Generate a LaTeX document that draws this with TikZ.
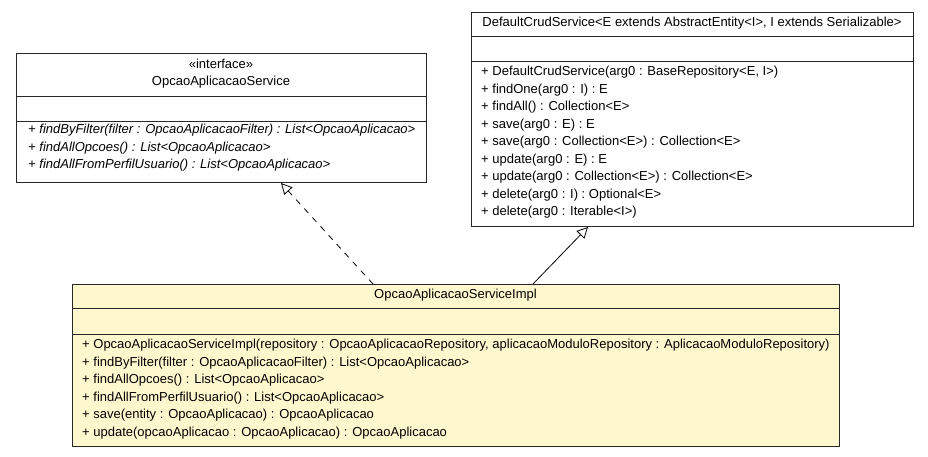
\documentclass[tikz,border=0pt]{standalone}
\usepackage{fontspec}
\setmainfont{Liberation Sans}
\usetikzlibrary{arrows.meta,calc}
\definecolor{implfill}{RGB}{255,248,206}
\definecolor{boxline}{RGB}{40,40,40}
\tikzset{
  umlbox/.style={draw=boxline, line width=1pt, rectangle, inner sep=0pt, anchor=north west},
  txt/.style={inner sep=0pt, anchor=mid west, font=\fontsize{13}{15}\selectfont},
  ttl/.style={inner sep=0pt, anchor=mid, font=\fontsize{13}{15}\selectfont},
  divider/.style={draw=boxline, line width=1pt},
  realize/.style={draw=black, line width=0.8pt, dash pattern=on 6pt off 6pt, -{Triangle[open, length=11pt, width=11pt, fill=white]}},
  generalize/.style={draw=black, line width=0.8pt, -{Triangle[open, length=11pt, width=11pt, fill=white]}}
}
\begin{document}
\begin{tikzpicture}[x=1pt,y=-1pt]
\useasboundingbox (0,0) rectangle (928,457);
% interface box
\node[umlbox, fill=white, minimum width=410pt, minimum height=128.5pt] (iface) at (16,53.5) {};
\draw[divider] (16,97) -- (426,97);
\draw[divider] (16,122) -- (426,122);
\node[ttl] (ifst) at (221,66) {«interface»};
\node[ttl] (ifname) at (221,82.5) {OpcaoAplicacaoService};
\node[txt] (if1) at (28,131) {\itshape + findByFilter(filter : OpcaoAplicacaoFilter) : List<OpcaoAplicacao>};
\node[txt] (if2) at (28,148.5) {\itshape + findAllOpcoes() : List<OpcaoAplicacao>};
\node[txt] (if3) at (28,166) {\itshape + findAllFromPerfilUsuario() : List<OpcaoAplicacao>};
% default crud service
\node[umlbox, fill=white, minimum width=442pt, minimum height=214pt] (crud) at (471,12) {};
\draw[divider] (471,37) -- (913,37);
\draw[divider] (471,62) -- (913,62);
\node[ttl] (crudname) at (692,24) {DefaultCrudService<E extends AbstractEntity<I>, I extends Serializable>};
\node[txt] (c1) at (481,73) {+ DefaultCrudService(arg0 : BaseRepository<E, I>)};
\node[txt] (c2) at (481,90.5) {+ findOne(arg0 : I) : E};
\node[txt] (c3) at (481,108) {+ findAll() : Collection<E>};
\node[txt] (c4) at (481,125.5) {+ save(arg0 : E) : E};
\node[txt] (c5) at (481,143) {+ save(arg0 : Collection<E>) : Collection<E>};
\node[txt] (c6) at (481,160.5) {+ update(arg0 : E) : E};
\node[txt] (c7) at (481,178) {+ update(arg0 : Collection<E>) : Collection<E>};
\node[txt] (c8) at (481,195.5) {+ delete(arg0 : I) : Optional<E>};
\node[txt] (c9) at (481,213) {+ delete(arg0 : Iterable<I>)};
% impl
\node[umlbox, fill=implfill, minimum width=767pt, minimum height=162pt] (impl) at (72,284) {};
\draw[divider] (72,308.5) -- (839,308.5);
\draw[divider] (72,334.5) -- (839,334.5);
\node[ttl] (implname) at (455.5,296) {OpcaoAplicacaoServiceImpl};
\node[txt] (i1) at (82,346) {+ OpcaoAplicacaoServiceImpl(repository : OpcaoAplicacaoRepository, aplicacaoModuloRepository : AplicacaoModuloRepository)};
\node[txt] (i2) at (82,363.5) {+ findByFilter(filter : OpcaoAplicacaoFilter) : List<OpcaoAplicacao>};
\node[txt] (i3) at (82,381) {+ findAllOpcoes() : List<OpcaoAplicacao>};
\node[txt] (i4) at (82,398.5) {+ findAllFromPerfilUsuario() : List<OpcaoAplicacao>};
\node[txt] (i5) at (82,416) {+ save(entity : OpcaoAplicacao) : OpcaoAplicacao};
\node[txt] (i6) at (82,433.5) {+ update(opcaoAplicacao : OpcaoAplicacao) : OpcaoAplicacao};
% connectors
\draw[realize] ($(impl.north west)+(301,0)$) -- ($(iface.south west)+(265,0)$);
\draw[generalize] ($(impl.north west)+(461,0)$) -- ($(crud.south west)+(117,0)$);
\end{tikzpicture}
\end{document}
